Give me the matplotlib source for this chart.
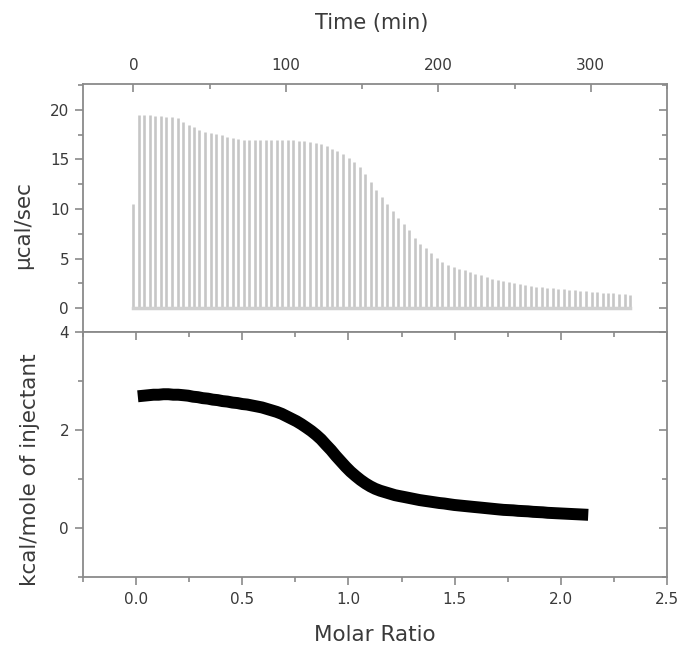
import matplotlib
matplotlib.use("Agg")
import matplotlib.pyplot as plt
from matplotlib.ticker import MultipleLocator, FormatStrFormatter

# ---------------- data ----------------
# Raw thermogram: injection times (min) and peak heights (ucal/sec)
inj_time = [0.0, 3.6, 7.2, 10.9, 14.5, 18.1, 21.7, 25.3, 29.0, 32.6,
            36.2, 39.8, 43.4, 47.1, 50.7, 54.3, 57.9, 61.5, 65.2, 68.8,
            72.4, 76.0, 79.6, 83.3, 86.9, 90.5, 94.1, 97.7, 101.4, 105.0,
            108.6, 112.2, 115.8, 119.5, 123.1, 126.7, 130.3, 133.9, 137.6, 141.2,
            144.8, 148.4, 152.0, 155.7, 159.3, 162.9, 166.5, 170.1, 173.8, 177.4,
            181.0, 184.6, 188.2, 191.9, 195.5, 199.1, 202.7, 206.3, 210.0, 213.6,
            217.2, 220.8, 224.4, 228.1, 231.7, 235.3, 238.9, 242.5, 246.2, 249.8,
            253.4, 257.0, 260.6, 264.3, 267.9, 271.5, 275.1, 278.7, 282.4, 286.0,
            289.6, 293.2, 296.8, 300.5, 304.1, 307.7, 311.3, 314.9, 318.6, 322.2,
            325.8]
peak_height = [10.5, 19.5, 19.5, 19.5, 19.4, 19.4, 19.3, 19.3, 19.2, 18.8,
               18.5, 18.3, 18.0, 17.8, 17.7, 17.6, 17.5, 17.3, 17.2, 17.1,
               17.0, 17.0, 17.0, 17.0, 17.0, 17.0, 17.0, 17.0, 17.0, 17.0,
               16.9, 16.9, 16.8, 16.7, 16.6, 16.3, 16.0, 15.8, 15.5, 15.1,
               14.7, 14.2, 13.5, 12.7, 11.9, 11.2, 10.5, 9.8, 9.1, 8.5,
               7.9, 7.1, 6.5, 6.1, 5.6, 5.1, 4.7, 4.4, 4.2, 4.0,
               3.8, 3.6, 3.4, 3.3, 3.1, 2.9, 2.8, 2.7, 2.6, 2.5,
               2.4, 2.3, 2.2, 2.15, 2.1, 2.05, 2.0, 1.95, 1.9, 1.85,
               1.8, 1.75, 1.7, 1.65, 1.6, 1.55, 1.5, 1.5, 1.45, 1.4,
               1.35]

# Integrated heats: molar ratio and kcal/mole of injectant
molar_ratio = [0.036, 0.059, 0.082, 0.106, 0.129, 0.152, 0.175, 0.198, 0.222, 0.245,
               0.268, 0.291, 0.314, 0.338, 0.361, 0.384, 0.407, 0.430, 0.454, 0.477,
               0.500, 0.523, 0.546, 0.570, 0.593, 0.616, 0.639, 0.662, 0.686, 0.709,
               0.732, 0.755, 0.778, 0.802, 0.825, 0.848, 0.871, 0.894, 0.918, 0.941,
               0.964, 0.987, 1.010, 1.034, 1.057, 1.080, 1.103, 1.126, 1.150, 1.173,
               1.196, 1.219, 1.242, 1.266, 1.289, 1.312, 1.335, 1.358, 1.382, 1.405,
               1.428, 1.451, 1.474, 1.498, 1.521, 1.544, 1.567, 1.590, 1.614, 1.637,
               1.660, 1.683, 1.706, 1.730, 1.753, 1.776, 1.799, 1.822, 1.846, 1.869,
               1.892, 1.915, 1.938, 1.962, 1.985, 2.008, 2.031, 2.054, 2.078, 2.101]
heat = [2.70, 2.71, 2.72, 2.72, 2.73, 2.73, 2.72, 2.72, 2.71, 2.70,
        2.68, 2.67, 2.65, 2.64, 2.62, 2.61, 2.59, 2.58, 2.56, 2.55,
        2.53, 2.52, 2.50, 2.48, 2.46, 2.43, 2.40, 2.37, 2.33, 2.28,
        2.23, 2.18, 2.12, 2.05, 1.98, 1.90, 1.81, 1.70, 1.59, 1.47,
        1.36, 1.25, 1.15, 1.06, 0.98, 0.91, 0.85, 0.80, 0.76, 0.73,
        0.70, 0.67, 0.65, 0.63, 0.61, 0.59, 0.57, 0.555, 0.54, 0.525,
        0.51, 0.50, 0.485, 0.47, 0.46, 0.45, 0.44, 0.43, 0.42, 0.41,
        0.40, 0.39, 0.38, 0.37, 0.365, 0.36, 0.35, 0.345, 0.34, 0.33,
        0.325, 0.32, 0.31, 0.305, 0.30, 0.295, 0.29, 0.285, 0.28, 0.275]

top_xlabel = "Time (min)"
top_ylabel = "µcal/sec"
bot_xlabel = "Molar Ratio"
bot_ylabel = "kcal/mole of injectant"

# ---------------- style ----------------
plt.rcParams['font.family'] = ['DejaVu Sans']
spine_c = '#8a8a8a'
text_c = '#3a3a3a'
W, H = 682, 650
fig = plt.figure(figsize=(W / 100, H / 100), dpi=100)

L, R = 83, 667
ax1 = fig.add_axes([L / W, 1 - 332 / H, (R - L) / W, (332 - 84) / H])
ax2 = fig.add_axes([L / W, 1 - 577 / H, (R - L) / W, (577 - 332) / H])

for ax in (ax1, ax2):
    for s in ax.spines.values():
        s.set_color(spine_c)
        s.set_linewidth(1.3)

# top panel
ax1.vlines(inj_time, 0, peak_height, color='#c6c6c6', linewidth=1.9)
ax1.plot(inj_time, [0] * len(inj_time), color='#d0d0d0', linewidth=2.5)
ax1.set_xlim(-33, 350)
ax1.set_ylim(-2.4, 22.6)
ax1.xaxis.set_major_locator(MultipleLocator(100))
ax1.xaxis.set_minor_locator(MultipleLocator(50))
ax1.yaxis.set_major_locator(MultipleLocator(5))
ax1.yaxis.set_minor_locator(MultipleLocator(2.5))
ax1.tick_params(axis='x', which='both', top=True, bottom=False,
                labeltop=True, labelbottom=False, direction='in')
ax1.tick_params(axis='y', which='both', left=True, right=False, direction='out')
ax1.tick_params(axis='both', which='major', length=6, width=1.2, color=spine_c,
                labelsize=11, labelcolor=text_c)
ax1.tick_params(axis='both', which='minor', length=3.5, width=1.2, color=spine_c)
ax1.tick_params(axis='x', which='major', pad=8)
ax1.tick_params(axis='y', which='major', pad=4)
ax1r = ax1.secondary_yaxis('right')
ax1r.yaxis.set_major_locator(MultipleLocator(5))
ax1r.yaxis.set_minor_locator(MultipleLocator(2.5))
ax1r.tick_params(which='both', direction='in', labelright=False, color=spine_c, width=1.2)
ax1r.tick_params(which='major', length=6)
ax1r.tick_params(which='minor', length=3.5)
ax1r.spines['right'].set_visible(False)
ax1.set_xlabel(top_xlabel, fontsize=15, color=text_c)
ax1.xaxis.set_label_position('top')
ax1.xaxis.set_label_coords(0.495, 1.222)
ax1.set_ylabel(top_ylabel, fontsize=15.5, color=text_c)
ax1.yaxis.set_label_coords(-0.086, 0.43)

# bottom panel
ax2.plot(molar_ratio, heat, linestyle='-', linewidth=8.6, color='black',
         solid_capstyle='projecting', solid_joinstyle='round')
ax2.set_xlim(-0.25, 2.5)
ax2.set_ylim(-1, 4)
ax2.xaxis.set_major_locator(MultipleLocator(0.5))
ax2.xaxis.set_minor_locator(MultipleLocator(0.25))
ax2.xaxis.set_major_formatter(FormatStrFormatter('%.1f'))
ax2.yaxis.set_major_locator(MultipleLocator(2))
ax2.yaxis.set_minor_locator(MultipleLocator(1))
ax2.tick_params(which='both', direction='out', top=False, right=False)
ax2.tick_params(axis='both', which='major', length=6, width=1.2, color=spine_c,
                labelsize=11, labelcolor=text_c)
ax2.tick_params(axis='both', which='minor', length=3.5, width=1.2, color=spine_c)
ax2.tick_params(axis='x', which='major', pad=5)
ax2.tick_params(axis='y', which='major', pad=4)
ax2t = ax2.secondary_xaxis('top')
ax2t.xaxis.set_major_locator(MultipleLocator(0.5))
ax2t.xaxis.set_minor_locator(MultipleLocator(0.25))
ax2t.tick_params(which='both', direction='in', labeltop=False, color=spine_c, width=1.2)
ax2t.tick_params(which='major', length=6)
ax2t.tick_params(which='minor', length=3.5)
ax2t.spines['top'].set_visible(False)
ax2r = ax2.secondary_yaxis('right')
ax2r.yaxis.set_major_locator(MultipleLocator(2))
ax2r.yaxis.set_minor_locator(MultipleLocator(1))
ax2r.tick_params(which='both', direction='in', labelright=False, color=spine_c, width=1.2)
ax2r.tick_params(which='major', length=6)
ax2r.tick_params(which='minor', length=3.5)
ax2r.spines['right'].set_visible(False)
ax2.set_xlabel(bot_xlabel, fontsize=15.5, color=text_c)
ax2.xaxis.set_label_coords(0.5, -0.196)
ax2.set_ylabel(bot_ylabel, fontsize=15.5, color=text_c)
ax2.yaxis.set_label_coords(-0.074, 0.44)

fig.savefig('out.png', dpi=100, facecolor='white')
